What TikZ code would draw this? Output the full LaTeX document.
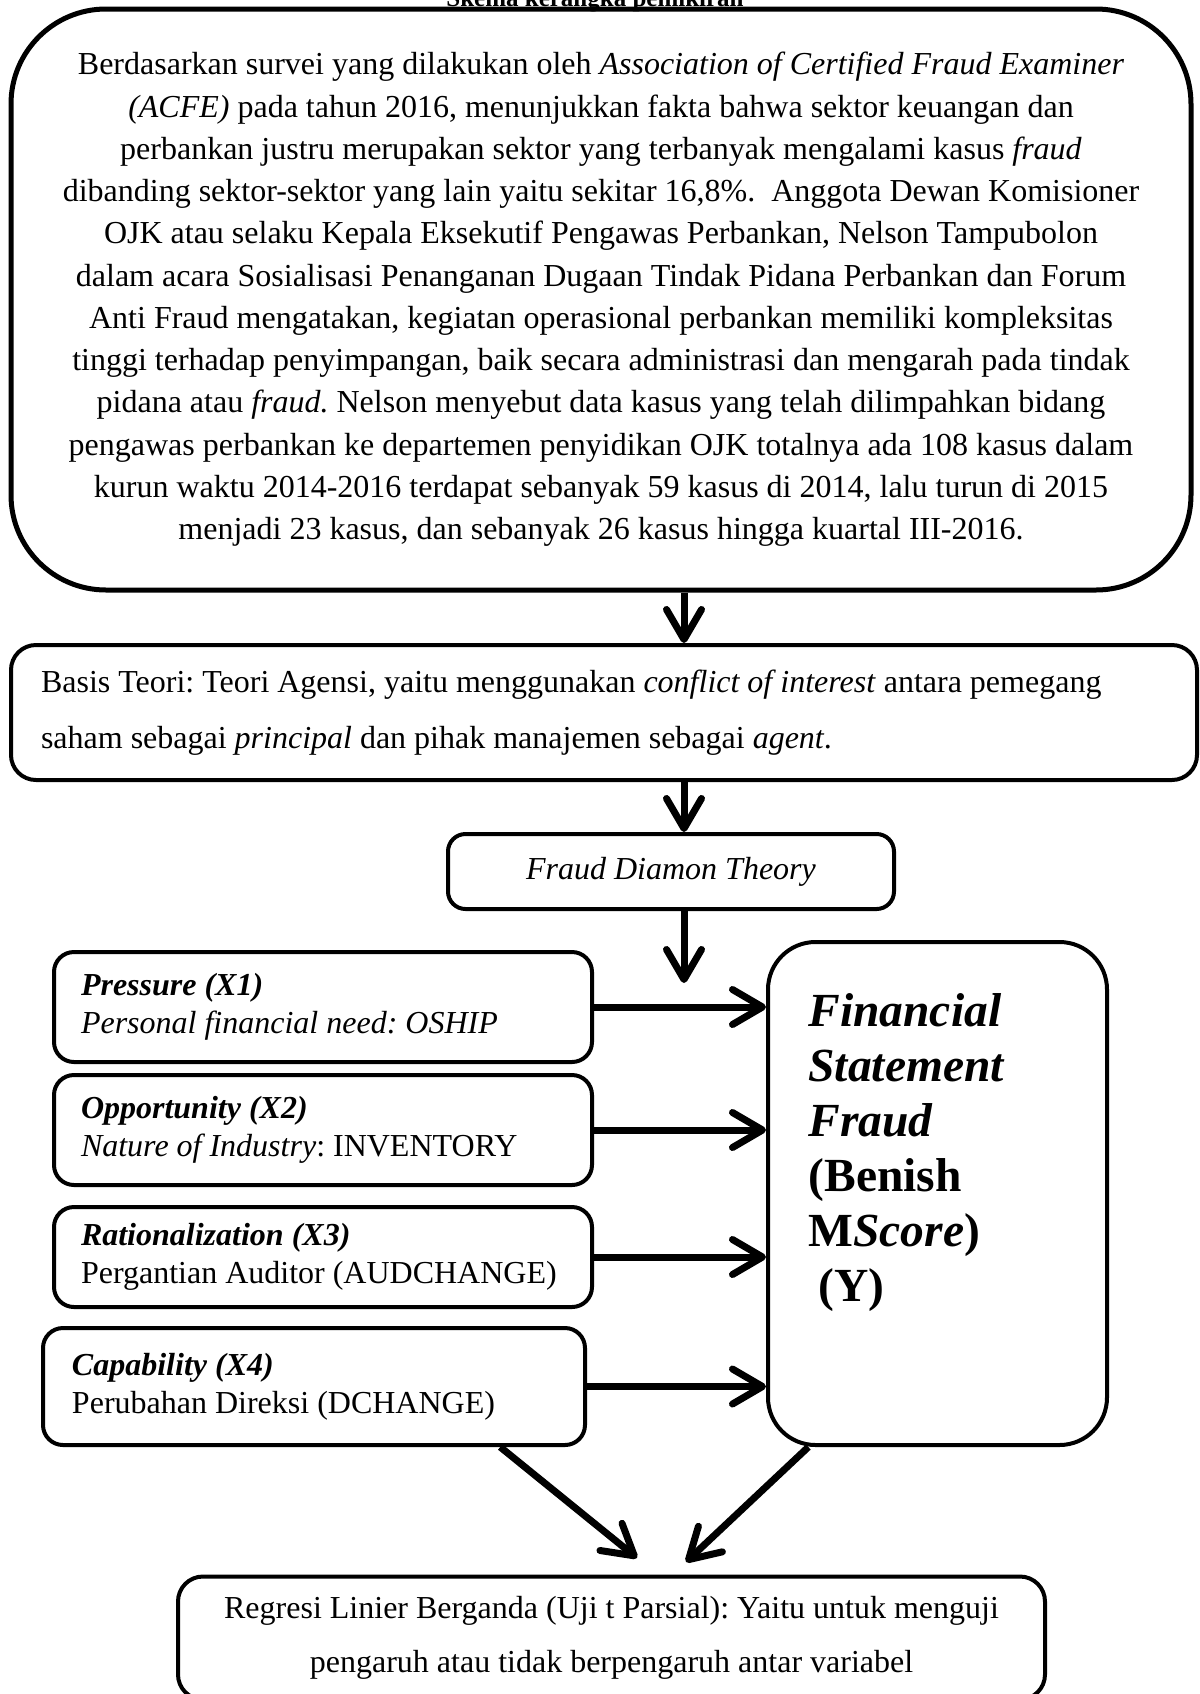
\documentclass[tikz,border=0pt]{standalone}
\usepackage{fontspec}
\setmainfont{Liberation Serif}
\usetikzlibrary{arrows.meta}
\frenchspacing
\def\pxu{0.4pt}
\tikzset{
  box/.style={draw, line width=1.6pt, rounded corners=8pt, inner sep=0pt, font=\fontsize{12.8}{15.2}\selectfont},
  var/.style={box, minimum width=538*\pxu, minimum height=110*\pxu, text width=484*\pxu, inner xsep=27*\pxu, align=flush left},
  arr/.style={line width=2.8pt, -{Straight Barb[length=12pt,width=14pt,round]}}
}

\begin{document}
\begin{tikzpicture}[x=\pxu, y=-\pxu]
\useasboundingbox (0,0) rectangle (1200,1694);
\node[font=\bfseries, anchor=base, inner sep=0pt] (title) at (595,6) {Skema kerangka pemikiran};

\node[box, line width=2pt, rounded corners=38pt, minimum width=1180*\pxu, minimum height=581*\pxu, align=center, font=\fontsize{12.8}{16.9}\selectfont] (survey) at (601,299.5) {Berdasarkan survei yang dilakukan oleh \textit{Association of Certified Fraud Examiner}\\
\textit{(ACFE)} pada tahun 2016, menunjukkan fakta bahwa sektor keuangan dan\\
perbankan justru merupakan sektor yang terbanyak mengalami kasus \textit{fraud}\\
dibanding sektor-sektor yang lain yaitu sekitar 16,8\%. \ Anggota Dewan Komisioner\\
OJK atau selaku Kepala Eksekutif Pengawas Perbankan, Nelson Tampubolon\\
dalam acara Sosialisasi Penanganan Dugaan Tindak Pidana Perbankan dan Forum\\
Anti Fraud mengatakan, kegiatan operasional perbankan memiliki kompleksitas\\
tinggi terhadap penyimpangan, baik secara administrasi dan mengarah pada tindak\\
pidana atau \textit{fraud.} Nelson menyebut data kasus yang telah dilimpahkan bidang\\
pengawas perbankan ke departemen penyidikan OJK totalnya ada 108 kasus dalam\\
kurun waktu 2014-2016 terdapat sebanyak 59 kasus di 2014, lalu turun di 2015\\
menjadi 23 kasus, dan sebanyak 26 kasus hingga kuartal III-2016.};

\node[box, rounded corners=10pt, minimum width=1186*\pxu, minimum height=135*\pxu, text width=1126*\pxu, inner xsep=30*\pxu, align=flush left, font=\fontsize{12.8}{22.4}\selectfont] (basis) at (604,712.5) {Basis Teori: Teori Agensi, yaitu menggunakan \textit{conflict of interest} antara pemegang\\
saham sebagai \textit{principal} dan pihak manajemen sebagai \textit{agent}.};

\node[box, rounded corners=7pt, minimum width=446*\pxu, minimum height=75*\pxu, font=\fontsize{12.8}{15.2}\itshape] (fdt) at (671,871.5) {Fraud Diamon Theory};

\node[var] (pres) at (323,1007) {\textbf{\textit{Pressure (X1)}}\\ \textit{Personal financial need: OSHIP}};
\node[var] (opp) at (323,1130) {\textbf{\textit{Opportunity (X2)}}\\ \textit{Nature of Industry}: INVENTORY};
\node[var, minimum height=100*\pxu] (rat) at (323,1257) {\textbf{\textit{Rationalization (X3)}}\\ Pergantian Auditor (AUDCHANGE)};
\node[var, minimum width=542*\pxu, minimum height=117*\pxu, text width=484*\pxu, inner xsep=29*\pxu] (cap) at (314,1386.5) {\textbf{\textit{Capability (X4)}}\\ Perubahan Direksi (DCHANGE)\\[8pt]};

\node[box, rounded corners=19pt, minimum width=339*\pxu, minimum height=503*\pxu] (fsf) at (937.5,1193.5) {};
\node[anchor=north west, inner sep=0pt, align=left, font=\fontsize{19}{22}\bfseries] (fsftext) at (808,993) {\textit{Financial}\\ \textit{Statement}\\ \textit{Fraud}\\ (Benish\\ M\textit{Score})\\ \hspace*{4pt}(Y)};

\node[box, rounded corners=10pt, minimum width=867*\pxu, minimum height=123*\pxu, align=center, font=\fontsize{12.8}{21.6}\selectfont] (regresi) at (611.5,1638) {Regresi Linier Berganda (Uji t Parsial): Yaitu untuk menguji\\ pengaruh atau tidak berpengaruh antar variabel};

\coordinate (axis) at (684,0);
\coordinate (tip3) at (684,983);
\coordinate (tipL) at (637,1558);
\coordinate (tipR) at (686,1562);
\draw[arr] (survey.south -| axis) -- (basis.north -| axis);
\draw[arr] (basis.south -| axis) -- (fdt.north -| axis);
\draw[arr] (fdt.south -| axis) -- (tip3);
\foreach \v in {pres,opp,rat,cap}
  \draw[arr] (\v.east) -- (\v.east -| fsf.west);
\draw[arr] (cap.-18) -- (tipL);
\draw[arr] (fsf.-117) -- (tipR);
\end{tikzpicture}
\end{document}
